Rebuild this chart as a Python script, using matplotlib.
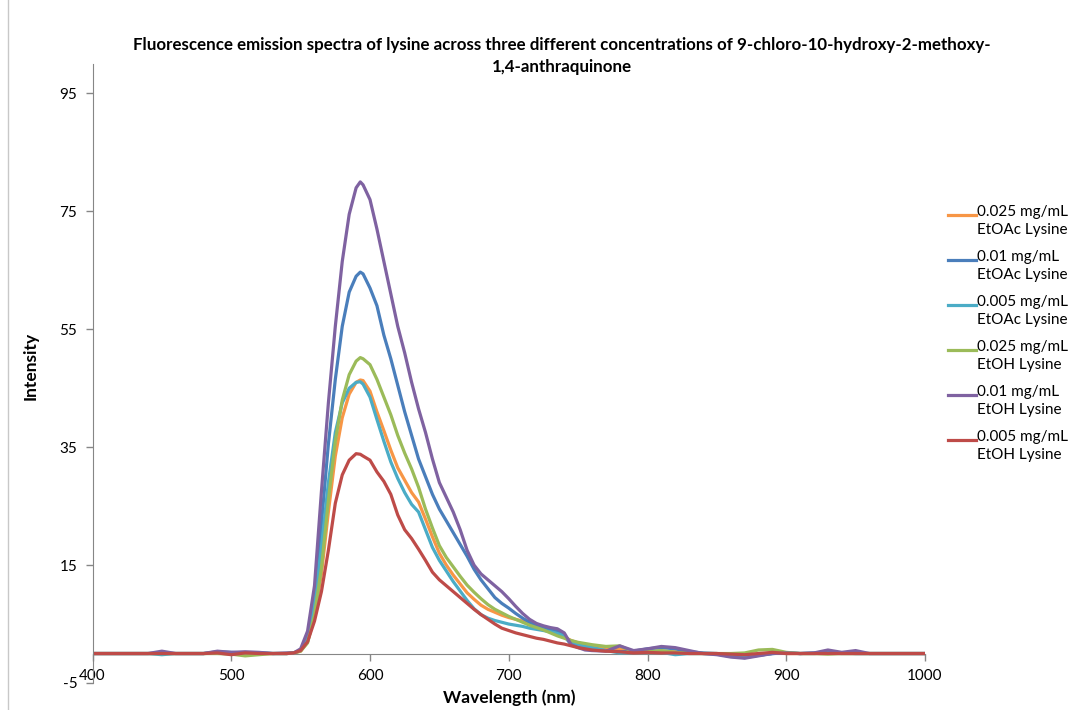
import matplotlib
matplotlib.use("Agg")
import matplotlib.pyplot as plt
from matplotlib.lines import Line2D

plt.rcParams["font.family"] = ["Lato", "DejaVu Sans"]
plt.rcParams["axes.unicode_minus"] = False

# Wavelength grid (nm): coarse in the flat tails, finer across the emission band
wl_low = [400, 410, 420, 430, 440, 450, 460, 470, 480, 490, 500, 510, 520, 530, 540]
wl_band = [545, 550, 555, 560, 565, 570, 575, 580, 585, 590, 593, 595, 600, 605, 610,
           615, 620, 625, 630, 635, 640, 645, 650, 655, 660, 665, 670, 675, 680, 685,
           690, 695, 700, 705, 710, 715, 720, 725, 730, 735, 740, 745, 750, 755, 760]
wl_high = [770, 780, 790, 800, 810, 820, 830, 840, 850, 860, 870, 880, 890, 900, 910,
           920, 930, 940, 950, 960, 970, 980, 990, 1000]
wavelength = wl_low + wl_band + wl_high

labels = [
    "0.025 mg/mL\nEtOAc Lysine",
    "0.01 mg/mL\nEtOAc Lysine",
    "0.005 mg/mL\nEtOAc Lysine",
    "0.025 mg/mL\nEtOH Lysine",
    "0.01 mg/mL\nEtOH Lysine",
    "0.005 mg/mL\nEtOH Lysine",
]
colors = ["#F79646", "#4A7EBB", "#4BACC6", "#9BBB59", "#7F62A1", "#BE4B48"]

etoac_025 = (
    [0, 0, 0, 0, 0, 0, 0, 0, 0, 0.1, 0, 0.1, 0, 0, 0]
    + [0.1, 0.4, 2.0, 6.5, 13.5, 24, 33.5, 40, 44, 46, 46.4, 46.3, 44.5, 41, 37.8,
       34.5, 31.5, 29.4, 27.3, 25.7, 22.8, 19.8, 17, 15, 13.3, 11.8, 10.3, 9.2, 8.2, 7.5,
       7, 6.5, 6.1, 5.8, 5.5, 5.1, 4.8, 4.4, 4, 3.6, 2.8, 2.2, 1.8, 1.5, 1.2]
    + [1.0, 0.8, 0.2, 0.3, 0.4, 0.3, 0.1, 0, 0, -0.2, -0.2, -0.1, 0.1, 0, 0,
       0, 0.1, 0, 0, 0, 0, 0, 0, 0]
)
etoac_010 = (
    [0, 0, 0, 0, 0, 0.1, 0, 0, 0, 0.3, 0.2, 0.1, 0.1, 0, 0]
    + [0.1, 0.6, 2.8, 9.5, 22, 35.5, 46.5, 55.5, 61.3, 64, 64.7, 64.4, 62, 59, 54,
       50, 45.5, 41, 37, 33, 30, 27, 24.5, 22.5, 20.5, 18.5, 16.5, 14.3, 12.5, 11,
       9.5, 8.5, 7.7, 6.8, 6, 5.3, 4.8, 4.4, 4.1, 3.9, 3.0, 1.5, 1.1, 0.8, 0.6]
    + [0.5, 0.3, 0.4, 0.8, 1.0, 0.8, 0.3, 0.1, 0, -0.3, -0.5, -0.3, 0, 0.1, 0,
       0.1, 0.3, 0.1, 0, 0, 0, 0, 0, 0]
)
etoac_005 = (
    [0, 0, 0, 0, 0, -0.2, 0, 0, 0, 0.1, 0, -0.2, 0.1, 0, 0]
    + [0.1, 0.5, 2.5, 8.5, 18, 29, 37.5, 42.5, 45, 46, 46.1, 45.7, 43.5, 39.7, 36,
       32.5, 29.7, 27.3, 25.3, 24, 21, 18, 15.8, 14, 12.2, 10.6, 9, 7.6, 6.6, 6,
       5.6, 5.3, 5, 4.8, 4.6, 4.3, 4.1, 3.9, 3.7, 3.4, 3.0, 1.8, 1.5, 1.2, 1.0]
    + [0.5, 0.1, 0.2, 0.3, 0.2, -0.2, 0, 0, -0.1, -0.5, -0.7, -0.3, 0, 0.1, 0,
       0, 0.1, 0, 0, 0, 0, 0, 0, 0]
)
etoh_025 = (
    [0, 0, 0, 0, 0, 0, 0, 0, 0, 0, -0.1, -0.4, -0.2, 0, 0]
    + [0.1, 0.4, 1.8, 6.5, 14.5, 26, 36, 43, 47.3, 49.6, 50.2, 50, 49, 46.5, 43.5,
       40.5, 37, 34, 31.3, 28.2, 24.5, 21.3, 18.3, 16.3, 14.7, 13.1, 11.6, 10.4, 9.3, 8.3,
       7.5, 6.9, 6.3, 5.8, 5.3, 4.8, 4.4, 4, 3.5, 3, 2.6, 2.2, 1.9, 1.7, 1.5]
    + [1.2, 1.3, 0.3, 0.3, 0.5, 0.2, 0, 0, 0, 0, 0.1, 0.6, 0.7, 0.2, 0,
       0, -0.1, 0, 0, 0, 0, 0, 0, 0]
)
etoh_010 = (
    [0, 0, 0, 0, 0, 0.4, 0, 0, 0, 0.4, 0.2, 0.3, 0.2, 0, 0.1]
    + [0.1, 0.8, 3.8, 11.5, 27.5, 42.5, 55.5, 66.5, 74.5, 79, 80, 79.5, 77, 72, 66.5,
       61, 55.5, 51, 46, 41.5, 37.5, 33, 29, 26.5, 24, 21, 17.5, 15, 13.5, 12.5,
       11.5, 10.5, 9.3, 8, 6.8, 5.8, 5.1, 4.7, 4.4, 4.2, 3.5, 1.5, 1.0, 0.6, 0.5]
    + [0.4, 1.3, 0.5, 0.8, 1.2, 1.0, 0.5, 0, -0.2, -0.6, -0.8, -0.4, 0, 0.1, 0,
       0.1, 0.6, 0.2, 0.5, 0, 0, 0, 0, 0]
)
etoh_005 = (
    [0, 0, 0, 0, 0, 0, 0, 0, 0, 0.1, -0.2, 0.1, 0, 0, 0]
    + [0.1, 0.5, 2.0, 5.5, 10.5, 17.5, 25.5, 30.3, 32.8, 33.9, 33.8, 33.5, 32.8, 30.8, 29.2,
       27, 23.5, 21, 19.5, 17.7, 15.8, 13.8, 12.5, 11.5, 10.5, 9.5, 8.5, 7.5, 6.6, 5.8,
       5, 4.3, 3.9, 3.5, 3.2, 2.9, 2.6, 2.4, 2.1, 1.8, 1.6, 1.3, 1.0, 0.8, 0.6]
    + [0.4, 0.3, 0.1, 0.2, 0.1, 0.1, 0, 0, 0, -0.1, -0.2, 0, 0.2, 0, 0,
       0, 0, 0, 0, 0, 0, 0, 0, 0]
)
series = [etoac_025, etoac_010, etoac_005, etoh_025, etoh_010, etoh_005]

x_ticks = [400, 500, 600, 700, 800, 900, 1000]
y_ticks = [-5, 15, 35, 55, 75, 95]

W, H = 1090, 710
fig = plt.figure(figsize=(W / 100, H / 100), dpi=100)
ax = fig.add_axes([92.5 / W, 1 - 683 / H, (925 - 92.5) / W, (683 - 64) / H])

for vals, c, lab in zip(series, colors, labels):
    ax.plot(wavelength, vals, color=c, lw=2.3, solid_joinstyle="round",
            solid_capstyle="round", label=lab)

ax.set_xlim(400, 1000)
ax.set_ylim(-5, 100)
ax.set_xticks(x_ticks)
ax.set_yticks(y_ticks)

axis_grey = "#868686"
for side in ("top", "right"):
    ax.spines[side].set_visible(False)
ax.spines["bottom"].set_position(("data", 0))
ax.spines["bottom"].set_color(axis_grey)
ax.spines["left"].set_color(axis_grey)
ax.spines["bottom"].set_zorder(0)
ax.tick_params(axis="x", direction="out", length=5, width=1, color=axis_grey,
               pad=6, labelsize=11)
ax.tick_params(axis="y", direction="out", length=5, width=1, color=axis_grey,
               pad=6, labelsize=11)

# Axis titles and chart title
fig.text(509 / W, 1 - 698 / H, "Wavelength (nm)", ha="center", va="center",
         fontsize=12.5, fontweight="bold")
fig.text(31 / W, 1 - 366 / H, "Intensity", ha="center", va="center",
         rotation=90, fontsize=12.5, fontweight="bold")

fig.text(562 / W, 1 - 45 / H,
         "Fluorescence emission spectra of lysine across three different concentrations of 9-chloro-10-hydroxy-2-methoxy-",
         ha="center", va="center", fontsize=12.2, fontweight="bold")
fig.text(562 / W, 1 - 67 / H, "1,4-anthraquinone",
         ha="center", va="center", fontsize=12.2, fontweight="bold")

# Legend: coloured sample line beside a two-line label
leg_top = 215
leg_step = 45
for i, (c, lab) in enumerate(zip(colors, labels)):
    y = leg_top + i * leg_step
    fig.add_artist(Line2D([948 / W, 976 / W], [1 - y / H, 1 - y / H],
                          color=c, lw=2.3, transform=fig.transFigure))
    fig.text(977 / W, 1 - (y - 10) / H, lab, ha="left", va="top",
             fontsize=11, linespacing=1.4)

# Chart-area frame edge on the left
fig.add_artist(Line2D([8 / W, 8 / W], [0, 1], color="#c8c8c8", lw=1,
                      transform=fig.transFigure))

fig.savefig("out.png", dpi=100)
